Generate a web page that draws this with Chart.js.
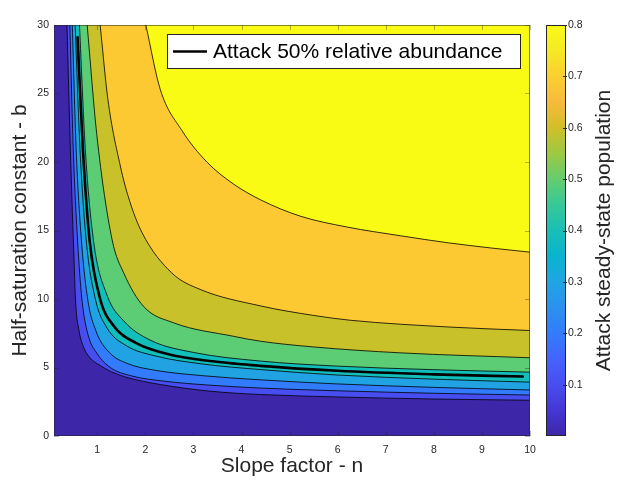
<!DOCTYPE html>
<html><head><meta charset="utf-8">
<script src="https://cdn.jsdelivr.net/npm/chart.js@4.4.0/dist/chart.umd.min.js"></script>
<style>html,body{margin:0;padding:0;background:#fff}canvas{display:block}</style>
</head><body>
<canvas id="c" width="622" height="486"></canvas>
<script>
// ---- data ----
const contourLevels = [0.1, 0.2, 0.3, 0.4, 0.5, 0.6, 0.7, 0.8];
const bandColors = ['#3e26a8', '#484df0', '#327bfc', '#21a3e3', '#12beb9', '#5ccc75', '#c8c129', '#fdc933', '#f9fb15'];

const line010 = [[0.37,30],[0.44,21],[0.51,13.6],[0.55,9.8],[0.62,7.7],[0.72,6.45],[0.85,5.7],[1.06,5.15],[1.3,4.68],[1.62,4.27],[2.31,3.76],[3.35,3.27],[4.39,3.03],[6,2.85],[8,2.7],[10,2.61]];
const line020 = [[0.43,30],[0.5,21],[0.59,14.3],[0.68,10],[0.8,7.5],[1.0,6.0],[1.27,5.0],[1.7,4.4],[2.4,4.0],[3.3,3.72],[4.39,3.5],[6,3.3],[8,3.12],[10,2.99]];
const line030 = [[0.48,30],[0.56,21],[0.67,14.3],[0.8,10],[0.98,7.6],[1.25,6.1],[1.62,5.3],[2.2,4.8],[3.2,4.4],[4.39,4.1],[6,3.8],[8,3.55],[10,3.36]];
const line040 = [[0.54,30],[0.64,21],[0.77,14.3],[0.96,10],[1.2,7.9],[1.6,6.6],[2.2,5.85],[3.2,5.25],[4.39,4.85],[6,4.45],[8,4.15],[10,3.93]];
const line050 = [[0.63,30],[0.75,21],[0.92,14.3],[1.2,10.3],[1.55,8.4],[2.1,7.0],[3,6.1],[4.39,5.47],[6,5.1],[8,4.84],[10,4.66]];
const line060 = [[0.79,30],[0.99,22],[1.31,14.3],[1.55,11.9],[1.96,9.47],[2.59,8.26],[3.83,7.28],[4.39,6.92],[5.5,6.5],[7.3,6.07],[10,5.71]];
const line070 = [[1.06,30],[1.22,24.6],[1.48,19.7],[1.66,17.3],[1.93,14.85],[2.55,11.9],[3.14,10.7],[4.39,9.5],[5.5,8.8],[6.26,8.45],[8.34,7.95],[10,7.7]];
const line080 = [[2.01,30],[2.31,25.3],[2.76,22.3],[3.28,20.0],[3.83,18.4],[4.39,17.25],[5.22,16.05],[6.2,15.25],[7.3,14.62],[8.3,14.1],[9.2,13.72],[10,13.42]];
const halfAbundanceLine = [[0.59,29.1],[0.7,21],[0.84,14.3],[1.06,10],[1.35,8.0],[1.8,6.8],[2.5,5.95],[3.4,5.45],[4.39,5.12],[6,4.76],[8,4.5],[9.85,4.34]];

const xTicks = [1, 2, 3, 4, 5, 6, 7, 8, 9, 10];
const yTicks = [0, 5, 10, 15, 20, 25, 30];
const cbTicks = [0.1, 0.2, 0.3, 0.4, 0.5, 0.6, 0.7, 0.8];
const parulaStops = ['#3e26a8','#4537d5','#484df0','#4563fd','#327cfc','#2b91ef','#20a5e3','#08b4d0','#19bfb6','#37c897','#64cd6f','#9dc943','#d1bf27','#f8ba3d','#fccf30','#f5e924','#f9fb15'];

const contourLines = [line010, line020, line030, line040, line050, line060, line070, line080];
const FONT = "'Liberation Sans', Arial, Helvetica, sans-serif";
const TXT = '#262626';

const datasets = contourLines.map((pts, i) => ({
  label: 'level ' + contourLevels[i],
  data: pts.map(p => ({x: p[0], y: p[1]})),
  borderColor: '#000',
  borderWidth: 0.8,
  pointRadius: 0,
  fill: 'end',
  backgroundColor: bandColors[i + 1],
  cubicInterpolationMode: 'monotone',
  order: 20 - i
}));
datasets.push({
  label: 'Attack 50% relative abundance',
  data: halfAbundanceLine.map(p => ({x: p[0], y: p[1]})),
  borderColor: '#000',
  borderWidth: 2.6,
  pointRadius: 0,
  fill: false,
  cubicInterpolationMode: 'monotone',
  order: 0
});

const noPad = s => { s.paddingTop = 0; s.paddingBottom = 0; s.paddingLeft = 0; s.paddingRight = 0; };

const decor = {
  id: 'decor',
  beforeDatasetsDraw(chart) {
    const {ctx, chartArea: a} = chart;
    ctx.save();
    ctx.fillStyle = bandColors[0];
    ctx.fillRect(a.left, a.top, a.right - a.left, a.bottom - a.top);
    ctx.restore();
  },
  afterDraw(chart) {
    const {ctx, chartArea: a, scales} = chart;
    ctx.save();
    ctx.strokeStyle = 'rgba(38,38,38,0.55)';
    ctx.lineWidth = 1;
    ctx.strokeRect(Math.round(a.left) + 0.5, Math.round(a.top) + 0.5, Math.round(a.right - a.left) - 1, Math.round(a.bottom - a.top) - 1);
    ctx.beginPath();
    xTicks.forEach(v => {
      const px = Math.round(scales.x.getPixelForValue(v)) + 0.5;
      ctx.moveTo(px, a.bottom); ctx.lineTo(px, a.bottom - 5);
      ctx.moveTo(px, a.top); ctx.lineTo(px, a.top + 5);
    });
    yTicks.forEach(v => {
      const py = Math.round(scales.y.getPixelForValue(v)) + 0.5;
      ctx.moveTo(a.left, py); ctx.lineTo(a.left + 5, py);
      ctx.moveTo(a.right, py); ctx.lineTo(a.right - 5, py);
    });
    ctx.strokeStyle = 'rgba(38,38,38,0.35)';
    ctx.stroke();

    // colorbar
    const cb = scales.cb;
    const cbL = 546, cbR = 566;
    const yTop = cb.getPixelForValue(0.8), yBot = cb.getPixelForValue(0);
    const g = ctx.createLinearGradient(0, yBot, 0, yTop);
    parulaStops.forEach((c, i) => g.addColorStop(i / (parulaStops.length - 1), c));
    ctx.fillStyle = g;
    ctx.fillRect(cbL, yTop, cbR - cbL, yBot - yTop);
    ctx.strokeStyle = TXT;
    ctx.lineWidth = 1;
    ctx.strokeRect(cbL + 0.5, Math.round(yTop) + 0.5, cbR - cbL - 1, Math.round(yBot - yTop) - 1);
    ctx.beginPath();
    cbTicks.forEach(v => {
      const py = Math.round(cb.getPixelForValue(v)) + 0.5;
      ctx.moveTo(cbR - 3, py); ctx.lineTo(cbR + 1, py);
    });
    ctx.stroke();

    ctx.save();
    ctx.translate(604, (a.top + a.bottom) / 2);
    ctx.rotate(-Math.PI / 2);
    ctx.fillStyle = TXT;
    ctx.font = '21px ' + FONT;
    ctx.textAlign = 'center';
    ctx.textBaseline = 'middle';
    ctx.fillText('Attack steady-state population', 0, 0);
    ctx.restore();

    // legend
    const lx = 167, ly = 34, lw = 354, lh = 35;
    ctx.fillStyle = '#fff';
    ctx.fillRect(lx, ly, lw, lh);
    ctx.strokeStyle = TXT;
    ctx.lineWidth = 1;
    ctx.strokeRect(lx + 0.5, ly + 0.5, lw - 1, lh - 1);
    ctx.beginPath();
    ctx.moveTo(lx + 6, ly + 17.5); ctx.lineTo(lx + 40, ly + 17.5);
    ctx.strokeStyle = '#000';
    ctx.lineWidth = 2.6;
    ctx.stroke();
    ctx.fillStyle = '#000';
    ctx.font = '21px ' + FONT;
    ctx.textAlign = 'left';
    ctx.textBaseline = 'middle';
    ctx.fillText(datasets[datasets.length - 1].label, lx + 46, ly + 18.5);
    ctx.restore();
  }
};

new Chart(document.getElementById('c'), {
  type: 'line',
  data: {datasets},
  options: {
    responsive: false,
    animation: false,
    devicePixelRatio: 1,
    layout: {padding: {top: 25, left: 0, right: 0, bottom: 0}},
    plugins: {legend: {display: false}, tooltip: {enabled: false}},
    elements: {line: {borderCapStyle: 'round'}},
    scales: {
      x: {
        type: 'linear', min: 0.1, max: 10,
        afterBuildTicks: s => { s.ticks = xTicks.map(v => ({value: v})); },
        afterFit: s => { s.height = 50; noPad(s); },
        grid: {display: false, drawTicks: false},
        border: {display: false},
        ticks: {padding: 8, color: TXT, font: {size: 10.5, family: FONT}, maxRotation: 0, autoSkip: false, callback: v => String(v)},
        title: {display: true, text: 'Slope factor - n', color: TXT, font: {size: 21, family: FONT}, padding: {top: 0, bottom: 7}}
      },
      y: {
        type: 'linear', min: 0, max: 30,
        afterBuildTicks: s => { s.ticks = yTicks.map(v => ({value: v})); },
        afterFit: s => { s.width = 54; noPad(s); },
        grid: {display: false, drawTicks: false},
        border: {display: false},
        ticks: {padding: 5, color: TXT, font: {size: 10.5, family: FONT}, autoSkip: false, callback: v => String(v)},
        title: {display: true, text: 'Half-saturation constant - b', color: TXT, font: {size: 21, family: FONT}, padding: {top: 8, bottom: 0}}
      },
      cb: {
        type: 'linear', position: 'right', min: 0, max: 0.8,
        afterBuildTicks: s => { s.ticks = cbTicks.map(v => ({value: v})); },
        afterFit: s => { s.width = 92; noPad(s); },
        grid: {display: false, drawTicks: false},
        border: {display: false},
        ticks: {padding: 38, color: TXT, font: {size: 10.5, family: FONT}, autoSkip: false, callback: v => String(v)}
      }
    }
  },
  plugins: [decor]
});
</script>
</body></html>
